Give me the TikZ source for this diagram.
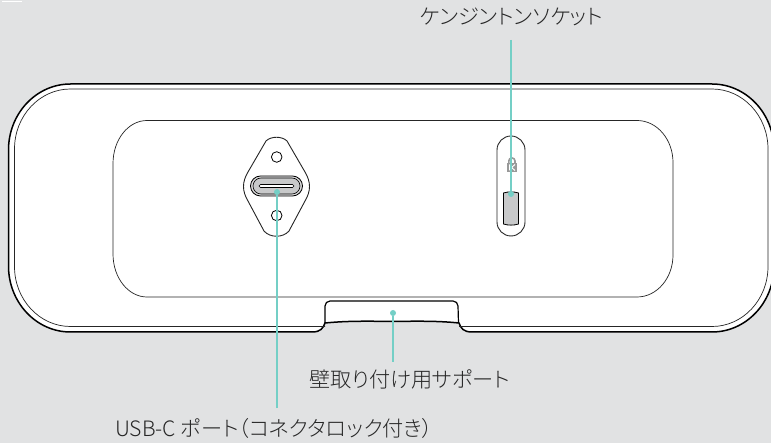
\documentclass[tikz,border=0pt]{standalone}
\usepackage{fontspec}
\setmainfont[RawFeature=+palt]{Noto Sans CJK JP Light}
\definecolor{bgray}{HTML}{E1E2E3}
\definecolor{teal1}{HTML}{74CFC6}
\definecolor{slotgray}{HTML}{C8C9CA}
\tikzset{
  px/.style={x=1pt,y=-1pt},
  thick line/.style={draw=black,line width=1.5pt},
  thin line/.style={draw=black!85,line width=0.7pt},
  label text/.style={font=\fontsize{21.2pt}{25pt}\selectfont,text=black!85,inner sep=0pt,anchor=base west},
  leader/.style={draw=teal1,line width=1.3pt},
  ldot/.style={circle,fill=teal1,minimum size=6pt,inner sep=0pt},
}
\begin{document}
\begin{tikzpicture}[px]
\useasboundingbox (0,0) rectangle (771,443);
\fill[bgray] (0,0) rectangle (771,443);
\draw[white,line width=1pt] (2,1.5) -- (22,1.5);
\begin{scope}
\clip (0,0) rectangle (771,443);
% body
\path[fill=white,thick line] (70.5,84) -- (712,84) arc[start angle=90,end angle=0,x radius=62,y radius=-66]
  -- (774,266) arc[start angle=0,end angle=-90,x radius=62,y radius=-66]
  -- (472,332) .. controls (463,332) and (461,328) .. (459,323)
  .. controls (440,321) and (420,321) .. (392,321.5)
  .. controls (365,321) and (345,321) .. (325,323)
  .. controls (323,328) and (321,332) .. (312,332)
  -- (70.5,332) arc[start angle=-90,end angle=-180,x radius=62,y radius=-66]
  -- (8.5,150) arc[start angle=180,end angle=90,x radius=62,y radius=-66] -- cycle;
% inner outline
\path[thin line] (325,326.5) -- (70.5,326.5) arc[start angle=-90,end angle=-180,x radius=56,y radius=-60]
  -- (14.5,149) arc[start angle=180,end angle=90,x radius=56,y radius=-60]
  -- (712,89) arc[start angle=90,end angle=0,x radius=56,y radius=-60]
  -- (768,266.5) arc[start angle=0,end angle=-90,x radius=56,y radius=-60] -- (459,326.5);
\end{scope}
% notch
\path[draw=black,line width=1.2pt] (325,323) -- (325,306) arc[start angle=180,end angle=90,radius=5,y radius=-5]
  -- (453,301) arc[start angle=90,end angle=0,radius=5,y radius=-5] -- (458.5,323);
% panel
\path[thin line] (147,120.5) -- (637,120.5) arc[start angle=90,end angle=0,x radius=36,y radius=-42]
  -- (673,255) arc[start angle=0,end angle=-90,x radius=36,y radius=-42]
  -- (147,297) arc[start angle=-90,end angle=-180,x radius=34,y radius=-43]
  -- (113,163.5) arc[start angle=180,end angle=90,x radius=34,y radius=-43] -- cycle;
% diamond plate
\path[thin line,line width=0.9pt] (266,141) .. controls (271,136) and (282,136) .. (287,141)
  -- (305,172) .. controls (311,182) and (311,191) .. (305,201)
  -- (289,231) .. controls (283,238) and (270,238) .. (264,231)
  -- (248,201) .. controls (242,191) and (242,182) .. (248,172) -- cycle;
\draw[black,line width=0.8pt] (276.7,157) circle[radius=5.3];
\draw[black,line width=0.8pt] (276.7,215.5) circle[radius=5.3];
% USB-C port
\path[fill=slotgray!70,draw=black,line width=0.8pt,rounded corners=10pt] (250.5,176) rectangle (302.5,196);
\path[fill=slotgray,draw=black,line width=0.6pt,rounded corners=8pt] (253,178) rectangle (300,194);
\path[fill=white,draw=black,line width=0.6pt,rounded corners=1.5pt] (259,184.5) rectangle (294,187.5);
% Kensington slot
\path[thin line,line width=0.9pt] (497,150) arc[start angle=180,end angle=0,x radius=14,y radius=-14] -- (525,222)
  arc[start angle=0,end angle=-180,x radius=14,y radius=-14] -- cycle;
\path[fill=black!40] (506.8,163.5) rectangle (517,171.7);
\draw[black!40,line width=1.6pt] (508.8,164) -- (508.8,161) arc[start angle=180,end angle=0,x radius=3.1,y radius=-3.1] -- (515,164);
\draw[white,line width=1pt] (509.5,164.5) -- (509.5,170.5) (515,164.5) -- (511.5,167.5) -- (515,170.5);
\path[fill=slotgray,draw=black,line width=0.8pt] (503.5,193) .. controls (508,191.5) and (514,191.5) .. (518.5,193)
  -- (518.5,224) .. controls (514,225.5) and (508,225.5) .. (503.5,224) -- cycle;
% labels
\node[label text] (lblK) at (420,25) {ケンジントンソケット};
\node[label text] (lblW) at (309,388) {壁取り付け用サポート};
\node[label text] (lblU) at (115,436) {USB-C ポート（コネクタロック付き）};
% dots
\node[ldot] (dotK) at (511,194) {};
\node[ldot] (dotU) at (277,192) {};
\node[ldot] (dotW) at (393,313) {};
\coordinate (endK) at (511,40);
\coordinate (endU) at (277,408);
\coordinate (endW) at (393,362);
\draw[leader] (endK) -- (dotK);
\draw[leader] (endU) -- (dotU);
\draw[leader] (endW) -- (dotW);
\end{tikzpicture}
\end{document}
